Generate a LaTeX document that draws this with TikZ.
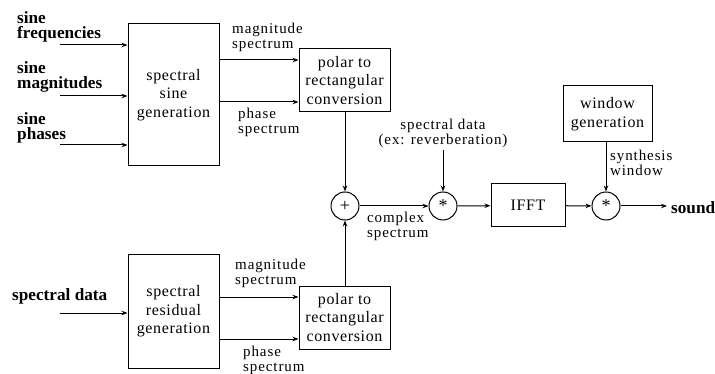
\documentclass[tikz,border=0pt]{standalone}
\usepackage{fontspec}
\setmainfont{Liberation Serif}
\newfontfamily\lblfont{Liberation Serif}[LetterSpace=6]
\newfontfamily\boxfont{Liberation Serif}[LetterSpace=4]
\usetikzlibrary{arrows.meta}
\begin{document}
\begin{tikzpicture}[x=1pt,y=-1pt,
  box/.style={draw,line width=1pt,inner sep=0pt,align=center,font=\boxfont\fontsize{16}{18.5}\selectfont},
  op/.style={draw,circle,line width=1pt,minimum size=28pt,inner sep=0pt,font=\fontsize{18}{18}\selectfont},
  lbl/.style={inner sep=0pt,align=left,font=\lblfont\fontsize{15}{15}\selectfont},
  blbl/.style={inner sep=0pt,align=left,font=\bfseries\fontsize{17.2}{15.5}\selectfont},
  arr/.style={line width=1pt,-{Stealth[length=6pt,width=4.5pt]}}]
\path[use as bounding box] (0,0) rectangle (715,374);
% boxes
\node[box,minimum width=91pt,minimum height=142pt] (sinegen) at (173.5,95) {spectral\\sine\\generation};
\node[box,minimum width=91pt,minimum height=63pt] (polar1) at (344.5,80.5) {polar to\\rectangular\\conversion};
\node[box,minimum width=91pt,minimum height=113pt] (resgen) at (173.5,311.5) {spectral\\residual\\generation};
\node[box,minimum width=91pt,minimum height=63pt] (polar2) at (344.5,317.5) {polar to\\rectangular\\conversion};
\node[op] (plus) at (345,206) {+};
\node[op] (star1) at (443,206) {*};
\node[box,minimum width=74pt,minimum height=43pt] (ifft) at (528,205.5) {IFFT};
\node[box,minimum width=89pt,minimum height=56pt] (win) at (607.5,114) {window\\generation};
\node[op] (star2) at (606,206) {*};
% input coordinates
\coordinate (in1) at (60,45);
\coordinate (in2) at (60,96);
\coordinate (in3) at (60,145);
\coordinate (in4) at (60,313);
\coordinate (rev) at (443,150);
\coordinate (out) at (667,206);
% labels
\node[blbl,anchor=west] (l1) at (17,27) {sine\\frequencies};
\node[blbl,anchor=west] (l2) at (17,77) {sine\\magnitudes};
\node[blbl,anchor=west] (l3) at (17,128) {sine\\phases};
\node[blbl,anchor=west] (l4) at (12,296) {spectral data};
\node[lbl,anchor=west] (m1) at (232,37) {magnitude\\spectrum};
\node[lbl,anchor=west] (p1) at (238,122) {phase\\spectrum};
\node[lbl,anchor=west] (m2) at (235,273) {magnitude\\spectrum};
\node[lbl,anchor=west] (p2) at (243,360) {phase\\spectrum};
\node[lbl,align=center] (sd) at (443,133) {spectral data\\(ex: reverberation)};
\node[lbl,anchor=west] (cs) at (367,226) {complex\\spectrum};
\node[lbl,anchor=west] (sw) at (610,163) {synthesis\\window};
\node[blbl,anchor=west] (snd) at (671,208) {sound};
% connectors
\draw[arr] (in1) -- (sinegen.west |- in1);
\draw[arr] (in2) -- (sinegen.west |- in2);
\draw[arr] (in3) -- (sinegen.west |- in3);
\draw[arr] (in4) -- (resgen.west |- in4);
\coordinate (a1) at (219,60);
\coordinate (a2) at (219,102);
\draw[arr] (sinegen.east |- a1) -- (polar1.west |- a1);
\draw[arr] (sinegen.east |- a2) -- (polar1.west |- a2);
\coordinate (b1) at (219,297);
\coordinate (b2) at (219,339);
\draw[arr] (resgen.east |- b1) -- (polar2.west |- b1);
\draw[arr] (resgen.east |- b2) -- (polar2.west |- b2);
\draw[arr] (polar1.south -| plus) -- (plus.north);
\draw[arr] (polar2.north -| plus) -- (plus.south);
\draw[arr] (plus) -- (star1);
\draw[arr] (rev) -- (star1.north);
\draw[arr] (star1) -- (ifft);
\draw[arr] (ifft) -- (star2);
\draw[arr] (win.south -| star2) -- (star2.north);
\draw[arr] (star2) -- (out);
\end{tikzpicture}
\end{document}
